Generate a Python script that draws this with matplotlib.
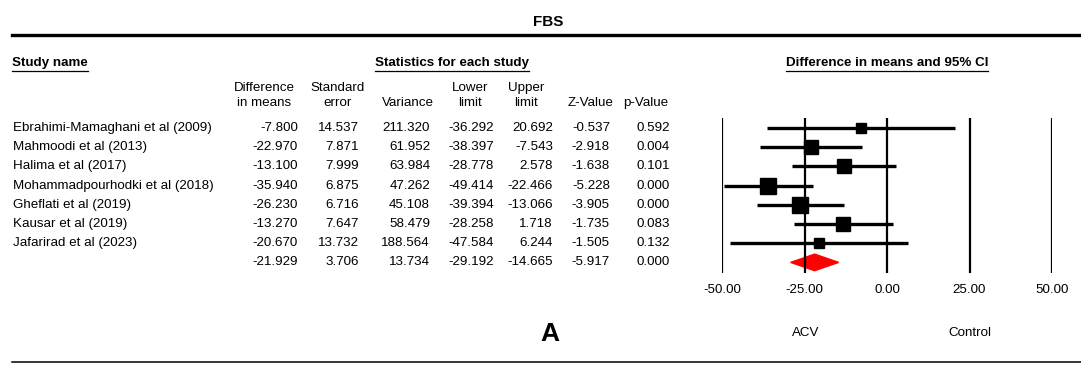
import numpy as np
import matplotlib
matplotlib.use("Agg")
import matplotlib.pyplot as plt
from matplotlib.lines import Line2D
from matplotlib.patches import Polygon

plt.rcParams['font.family'] = ['Liberation Sans', 'DejaVu Sans']

# ---- data ----
studies = ["Ebrahimi-Mamaghani et al (2009)", "Mahmoodi et al (2013)", "Halima et al (2017)",
           "Mohammadpourhodki et al (2018)", "Gheflati et al (2019)", "Kausar et al (2019)",
           "Jafarirad et al (2023)"]
diff = [-7.800, -22.970, -13.100, -35.940, -26.230, -13.270, -20.670]
se = [14.537, 7.871, 7.999, 6.875, 6.716, 7.647, 13.732]
var = [211.320, 61.952, 63.984, 47.262, 45.108, 58.479, 188.564]
lower = [-36.292, -38.397, -28.778, -49.414, -39.394, -28.258, -47.584]
upper = [20.692, -7.543, 2.578, -22.466, -13.066, 1.718, 6.244]
zval = [-0.537, -2.918, -1.638, -5.228, -3.905, -1.735, -1.505]
pval = [0.592, 0.004, 0.101, 0.000, 0.000, 0.083, 0.132]
pooled = [-21.929, 3.706, 13.734, -29.192, -14.665, -5.917, 0.000]
ticks = [-50, -25, 0, 25, 50]
tick_labels = ["-50.00", "-25.00", "0.00", "25.00", "50.00"]
col_head1 = ["Difference", "Standard", "", "Lower", "Upper", "", ""]
col_head2 = ["in means", "error", "Variance", "limit", "limit", "Z-Value", "p-Value"]

W, H = 1081, 365
fig = plt.figure(figsize=(W / 100, H / 100), dpi=100)

def fx(x):
    return x / W

def fy(y):
    return 1 - y / H

FS = 9.6

def underlined(x, y, s, ha):
    t = fig.text(fx(x), fy(y), s, ha=ha, va="center", fontsize=FS, fontweight="bold")
    fig.canvas.draw()
    bb = t.get_window_extent().transformed(fig.transFigure.inverted())
    yl = fy(y + 7.5)
    fig.add_artist(Line2D([bb.x0, bb.x1], [yl, yl], color="black", lw=0.9,
                          transform=fig.transFigure))

# title and rules
fig.text(fx(548), fy(22), "FBS", ha="center", va="center", fontsize=11, fontweight="bold")
fig.add_artist(Line2D([fx(12), 1], [fy(35), fy(35)], color="black", lw=2.4,
                      transform=fig.transFigure))
fig.add_artist(Line2D([fx(12), 1], [fy(362), fy(362)], color="black", lw=1.1,
                      transform=fig.transFigure))

underlined(12, 63, "Study name", "left")
underlined(452, 63, "Statistics for each study", "center")
underlined(887, 63, "Difference in means and 95% CI", "center")

# table
head_x = [264, 338, 408, 470, 526, 591, 646]
right_x = [298, 359, 430, 494, 553, 610, 670]
for hx, h1, h2 in zip(head_x, col_head1, col_head2):
    if h1:
        fig.text(fx(hx), fy(88), h1, ha="center", va="center", fontsize=FS)
    fig.text(fx(hx), fy(103), h2, ha="center", va="center", fontsize=FS)

row_y0, row_dy = 128, 19.2
cols = [diff, se, var, lower, upper, zval, pval]
for i, name in enumerate(studies):
    y = row_y0 + i * row_dy
    fig.text(fx(13), fy(y), name, ha="left", va="center", fontsize=FS)
    for rx, col in zip(right_x, cols):
        fig.text(fx(rx), fy(y), f"{col[i]:.3f}", ha="right", va="center", fontsize=FS)
y = row_y0 + len(studies) * row_dy
for rx, v in zip(right_x, pooled):
    fig.text(fx(rx), fy(y), f"{v:.3f}", ha="right", va="center", fontsize=FS)

# forest plot
top, bot = 118, 273
ax = fig.add_axes([fx(722), fy(bot), (1052 - 722) / W, (bot - top) / H])
ax.set_xlim(-50, 50)
ax.set_ylim((bot - row_y0) / row_dy, (top - row_y0) / row_dy)
for t in ticks:
    ax.axvline(t, color="black", lw=1.6)
weights = 1 / np.array(var)
side_px = 3.2 + 84.7 * np.sqrt(weights)
for i in range(len(studies)):
    ax.plot([lower[i], upper[i]], [i, i], color="black", lw=2.4, solid_capstyle="butt", clip_on=False)
    ax.plot(diff[i], i, marker="s", color="black", markersize=side_px[i] / 1.389, clip_on=False)
k = len(studies)
h = 8.3 / row_dy
ax.add_patch(Polygon([(pooled[3], k), (pooled[0], k - h), (pooled[4], k), (pooled[0], k + h)],
                     closed=True, color="red", clip_on=False))
for s in ax.spines.values():
    s.set_visible(False)
ax.set_yticks([])
ax.set_xticks(ticks)
ax.set_xticklabels(tick_labels, fontsize=FS)
ax.tick_params(axis="x", length=0, pad=8)

fig.text(fx(550), fy(334), "A", ha="center", va="center", fontsize=19, fontweight="bold",
         family=["Liberation Sans Narrow", "Liberation Sans"])
fig.text(fx(806), fy(333), "ACV", ha="center", va="center", fontsize=FS)
fig.text(fx(970), fy(333), "Control", ha="center", va="center", fontsize=FS)

fig.savefig("out.png", dpi=100)
